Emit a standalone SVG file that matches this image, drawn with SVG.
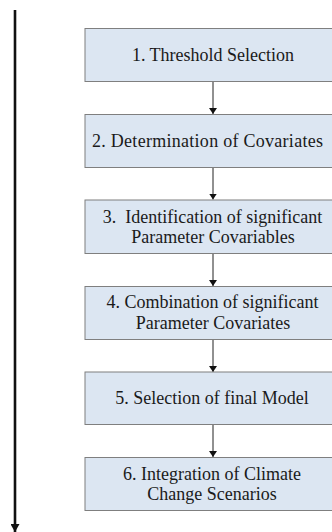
<svg xmlns="http://www.w3.org/2000/svg" width="332" height="532" viewBox="0 0 332 532">
<style>
.box{fill:#dce6f2;stroke:#7f7f7f;stroke-width:1}
.t{font-family:'Liberation Serif','Times New Roman','DejaVu Serif',serif;font-size:18px;fill:#1a1a1a;text-anchor:middle}
.c{stroke:#222;stroke-width:1;fill:none}
</style>
<defs>
<marker id="ah" viewBox="0 0 6 8" refX="6" refY="4" markerWidth="6" markerHeight="8" markerUnits="userSpaceOnUse" orient="auto">
<path d="M0,0 L6,4 L0,8 Z" fill="#111"/>
</marker>
<marker id="ah2" viewBox="0 0 8 9" refX="8" refY="4.5" markerWidth="8" markerHeight="9" markerUnits="userSpaceOnUse" orient="auto">
<path d="M0,0 L8,4.5 L0,9 Z" fill="#111"/>
</marker>
</defs>
<rect width="332" height="532" fill="#ffffff"/>
<g id="timeline">
<line x1="15" y1="10" x2="15" y2="532" stroke="#111" stroke-width="2.6" marker-end="url(#ah2)"/>
</g>
<g id="connectors">
<line class="c" x1="213" y1="81.5" x2="213" y2="114" marker-end="url(#ah)"/>
<line class="c" x1="213" y1="167.5" x2="213" y2="199.5" marker-end="url(#ah)"/>
<line class="c" x1="213" y1="253.5" x2="213" y2="286" marker-end="url(#ah)"/>
<line class="c" x1="213" y1="339.5" x2="213" y2="372" marker-end="url(#ah)"/>
<line class="c" x1="213" y1="424.5" x2="213" y2="457" marker-end="url(#ah)"/>
</g>
<g id="n1">
<rect class="box" x="85" y="28.5" width="257" height="53"/>
<text class="t" x="213" y="61">1. Threshold Selection</text>
</g>
<g id="n2">
<rect class="box" x="85" y="114.5" width="257" height="53"/>
<text class="t" x="207.5" y="146.5" textLength="231">2. Determination of Covariates</text>
</g>
<g id="n3">
<rect class="box" x="85" y="200" width="257" height="53.5"/>
<text class="t" x="212.5" y="222.5" xml:space="preserve">3.  Identification of significant</text>
<text class="t" x="213" y="242.5">Parameter Covariables</text>
</g>
<g id="n4">
<rect class="box" x="85" y="286.5" width="257" height="53"/>
<text class="t" x="212.5" y="308">4. Combination of significant</text>
<text class="t" x="213" y="329">Parameter Covariates</text>
</g>
<g id="n5">
<rect class="box" x="85" y="372" width="257" height="52.5"/>
<text class="t" x="212" y="403.5">5. Selection of final Model</text>
</g>
<g id="n6">
<rect class="box" x="85" y="457.5" width="257" height="53"/>
<text class="t" x="212" y="479.5">6. Integration of Climate</text>
<text class="t" x="212" y="500">Change Scenarios</text>
</g>
</svg>
